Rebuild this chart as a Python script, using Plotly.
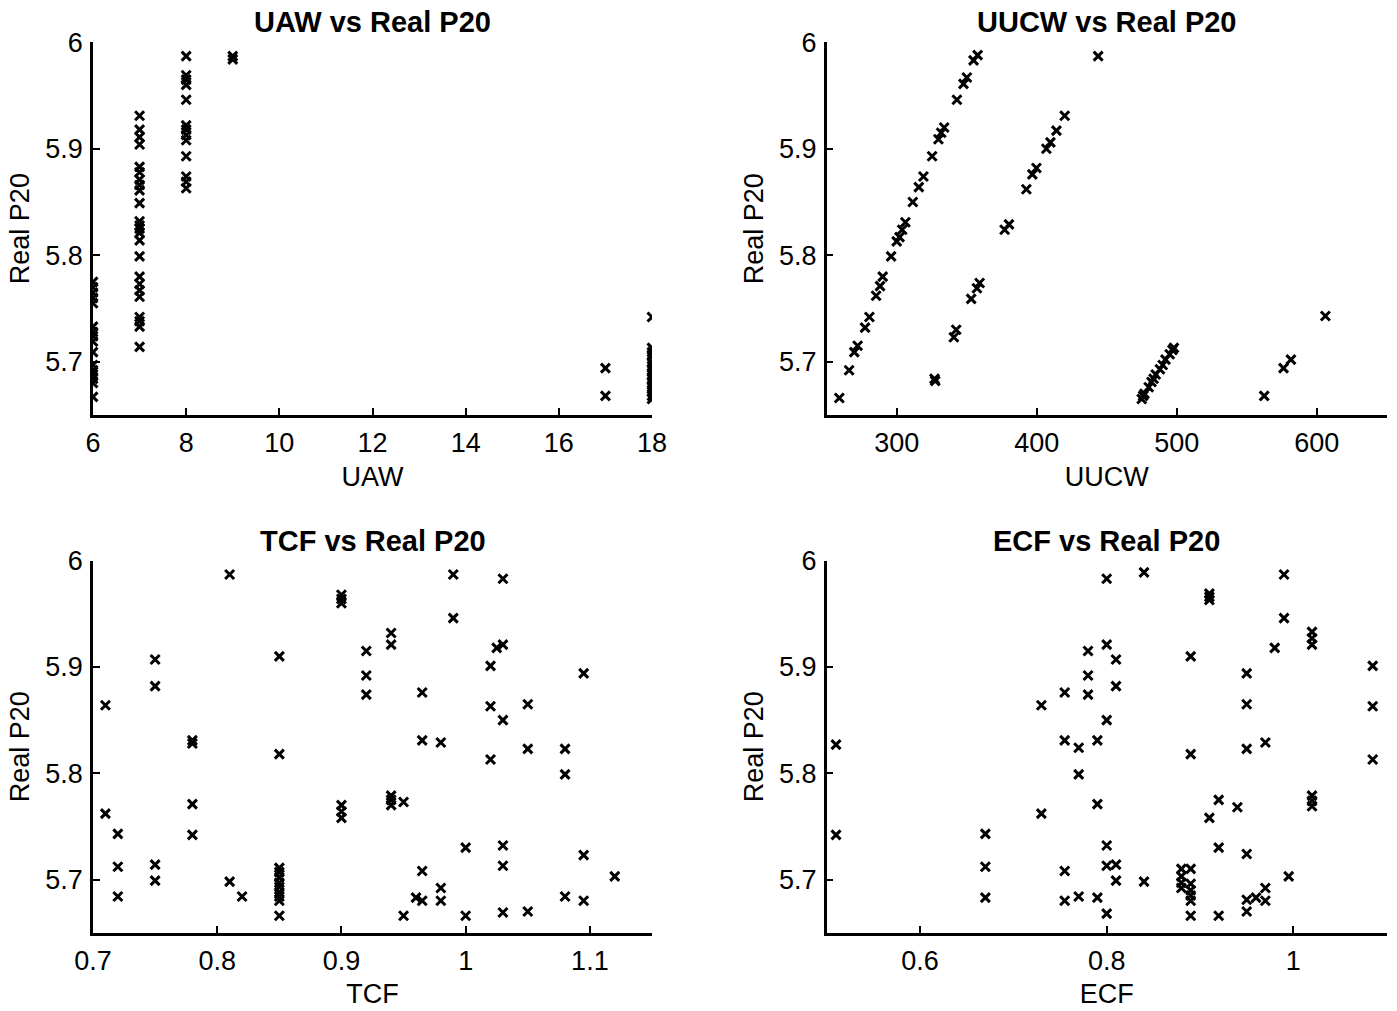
import plotly.graph_objects as go

# ---- data: Real P20 against each use-case-point factor ----
uaw = [6] * 16 + [7] * 24 + [8] * 13 + [9] * 2 + [17] * 2 + [18] * 14
uaw_p20 = [
    5.775, 5.770, 5.765, 5.760, 5.755, 5.733, 5.728, 5.724, 5.719, 5.709, 5.697, 5.692, 5.688, 5.684, 5.680, 5.667,
    5.931, 5.918, 5.911, 5.904, 5.883, 5.878, 5.871, 5.866, 5.861, 5.849, 5.832, 5.828, 5.825, 5.821, 5.814, 5.799,
    5.780, 5.773, 5.767, 5.761, 5.742, 5.738, 5.733, 5.714,
    5.987, 5.969, 5.965, 5.960, 5.946, 5.922, 5.918, 5.913, 5.908, 5.893, 5.874, 5.869, 5.863,
    5.987, 5.984,
    5.694, 5.668,
    5.742, 5.713, 5.709, 5.705, 5.700, 5.696, 5.692, 5.688, 5.684, 5.680, 5.676, 5.672, 5.668, 5.665,
]

uucw = [
    259, 266, 269.7, 272.1, 277.4, 280.5, 285.3, 288.1, 290, 296, 300, 302, 303.9, 306.2, 311.5, 315.8,
    319.1, 325.3, 329.8, 331.8, 333.9, 343, 347.7, 350.1, 354.9, 357.8,
    443.9,
    327, 327.5, 340.8, 342.5, 353.2, 357.3, 359.2, 377.1, 380.2, 392.6, 396.9, 399.8, 406.9, 409.8, 414.1, 420,
    475, 476, 477, 480, 482, 483.5, 485, 488, 490, 492, 495, 497, 498,
    562.5, 576.3, 581.6, 606.2,
]
uucw_p20 = [
    5.666, 5.692, 5.709, 5.715, 5.732, 5.742, 5.762, 5.771, 5.780, 5.799, 5.813, 5.817, 5.824, 5.831, 5.850, 5.864,
    5.874, 5.893, 5.909, 5.915, 5.920, 5.946, 5.961, 5.967, 5.983, 5.988,
    5.987,
    5.684, 5.682, 5.723, 5.730, 5.759, 5.769, 5.774, 5.824, 5.829, 5.862, 5.876, 5.882, 5.900, 5.906, 5.917, 5.931,
    5.665, 5.668, 5.670, 5.676, 5.681, 5.684, 5.688, 5.693, 5.697, 5.702, 5.707, 5.711, 5.713,
    5.668, 5.694, 5.702, 5.743,
]

tcf = [
    0.71, 0.71, 0.72, 0.72, 0.72, 0.75, 0.75, 0.75, 0.75, 0.78, 0.78, 0.78, 0.78, 0.81, 0.81, 0.82,
    0.85, 0.85, 0.85, 0.85, 0.85, 0.85, 0.85, 0.85, 0.85, 0.85, 0.85,
    0.90, 0.90, 0.90, 0.90, 0.90, 0.90, 0.92, 0.92, 0.92, 0.94, 0.94, 0.94, 0.94, 0.94, 0.95, 0.95, 0.96,
    0.965, 0.965, 0.965, 0.965, 0.98, 0.98, 0.98, 0.99, 0.99, 1.00, 1.00, 1.02, 1.02, 1.02, 1.025,
    1.03, 1.03, 1.03, 1.03, 1.03, 1.03, 1.05, 1.05, 1.05, 1.08, 1.08, 1.08, 1.095, 1.095, 1.095, 1.12,
]
tcf_p20 = [
    5.864, 5.762, 5.743, 5.712, 5.684, 5.907, 5.882, 5.714, 5.699, 5.831, 5.828, 5.771, 5.742, 5.987, 5.698, 5.684,
    5.910, 5.818, 5.711, 5.707, 5.702, 5.697, 5.693, 5.688, 5.684, 5.680, 5.666,
    5.968, 5.964, 5.960, 5.770, 5.764, 5.758, 5.915, 5.892, 5.874, 5.932, 5.921, 5.779, 5.775, 5.770, 5.773, 5.666, 5.683,
    5.876, 5.831, 5.708, 5.680, 5.829, 5.692, 5.680, 5.987, 5.946, 5.730, 5.666, 5.901, 5.863, 5.813, 5.918,
    5.983, 5.921, 5.850, 5.732, 5.713, 5.669, 5.865, 5.823, 5.670, 5.823, 5.799, 5.684, 5.894, 5.723, 5.680, 5.703,
]

ecf = [
    0.51, 0.51, 0.67, 0.67, 0.67, 0.73, 0.73, 0.755, 0.755, 0.755, 0.755, 0.77, 0.77, 0.77, 0.78, 0.78, 0.78,
    0.79, 0.79, 0.79, 0.80, 0.80, 0.80, 0.80, 0.80, 0.80, 0.81, 0.81, 0.81, 0.81, 0.84, 0.84,
    0.88, 0.88, 0.88, 0.88, 0.89, 0.89, 0.89, 0.89, 0.89, 0.89, 0.89, 0.89,
    0.91, 0.91, 0.91, 0.91, 0.92, 0.92, 0.92, 0.94, 0.95, 0.95, 0.95, 0.95, 0.95, 0.95, 0.96, 0.97, 0.97, 0.97,
    0.98, 0.99, 0.99, 0.995, 1.02, 1.02, 1.02, 1.02, 1.02, 1.02, 1.085, 1.085, 1.085,
]
ecf_p20 = [
    5.827, 5.742, 5.743, 5.712, 5.683, 5.864, 5.762, 5.876, 5.831, 5.708, 5.680, 5.824, 5.799, 5.684, 5.915, 5.892, 5.874,
    5.831, 5.771, 5.683, 5.983, 5.921, 5.850, 5.732, 5.713, 5.668, 5.907, 5.882, 5.714, 5.699, 5.989, 5.698,
    5.710, 5.703, 5.697, 5.692, 5.910, 5.818, 5.710, 5.696, 5.690, 5.685, 5.680, 5.666,
    5.969, 5.966, 5.963, 5.758, 5.775, 5.730, 5.666, 5.768, 5.894, 5.865, 5.823, 5.724, 5.681, 5.670, 5.683, 5.692, 5.680, 5.829,
    5.918, 5.987, 5.946, 5.703, 5.933, 5.927, 5.921, 5.779, 5.774, 5.769, 5.901, 5.863, 5.813,
]

panels = [
    ("UAW", uaw, uaw_p20, [6, 18], [6, 8, 10, 12, 14, 16, 18]),
    ("UUCW", uucw, uucw_p20, [250, 650], [300, 400, 500, 600]),
    ("TCF", tcf, tcf_p20, [0.7, 1.15], [0.7, 0.8, 0.9, 1.0, 1.1]),
    ("ECF", ecf, ecf_p20, [0.5, 1.1], [0.6, 0.8, 1.0]),
]
y_range = [5.65, 6.0]
y_ticks = [5.7, 5.8, 5.9, 6.0]

W, H = 1397, 1011
x_domains = [[93 / W, 652 / W], [826.7 / W, 1386.7 / W]]
y_domains = [[1 - 415 / H, 1 - 42.3 / H], [1 - 932.7 / H, 1 - 560.7 / H]]

FONT = "Liberation Sans, Arial, Helvetica, sans-serif"
TICK_SIZE = 27
TITLE_SIZE = 29

fig = go.Figure()
annotations = []
layout = {}

for i, (name, xs, ys, xr, xt) in enumerate(panels):
    row, col = divmod(i, 2)
    n = "" if i == 0 else str(i + 1)
    fig.add_trace(go.Scatter(
        x=xs, y=ys, mode="markers", xaxis="x" + n, yaxis="y" + n,
        marker=dict(symbol="x-thin-open", size=9, color="black",
                    line=dict(color="black", width=3)),
        showlegend=False, hoverinfo="x+y",
    ))
    axis_common = dict(
        showline=True, linecolor="black", linewidth=2.5, mirror=False,
        ticks="inside", ticklen=7, tickwidth=2, tickcolor="black",
        showgrid=False, zeroline=False,
        tickfont=dict(family=FONT, size=TICK_SIZE, color="black"),
        automargin=False,
    )
    layout["xaxis" + n] = dict(
        axis_common, domain=x_domains[col], range=xr, tickvals=xt,
        ticktext=[f"{v:g}" for v in xt], anchor="y" + n,
        ticklabelstandoff=2,
        title=dict(text=name, font=dict(family=FONT, size=TICK_SIZE, color="black"), standoff=10),
    )
    layout["yaxis" + n] = dict(
        axis_common, domain=y_domains[row], range=y_range, tickvals=y_ticks,
        ticktext=[f"{v:g}" for v in y_ticks], anchor="x" + n,
        ticklabelstandoff=2,
        title=dict(text="Real P20", font=dict(family=FONT, size=TICK_SIZE, color="black"), standoff=8),
    )
    annotations.append(dict(
        text=f"<b>{name} vs Real P20</b>", xref="paper", yref="paper",
        x=sum(x_domains[col]) / 2, y=y_domains[row][1],
        xanchor="center", yanchor="bottom", yshift=2, showarrow=False,
        font=dict(family=FONT, size=TITLE_SIZE, color="black"),
    ))

fig.update_layout(
    width=W, height=H,
    margin=dict(l=0, r=0, t=0, b=0),
    paper_bgcolor="white", plot_bgcolor="white",
    annotations=annotations,
    **layout,
)

fig.write_html("out.html")
